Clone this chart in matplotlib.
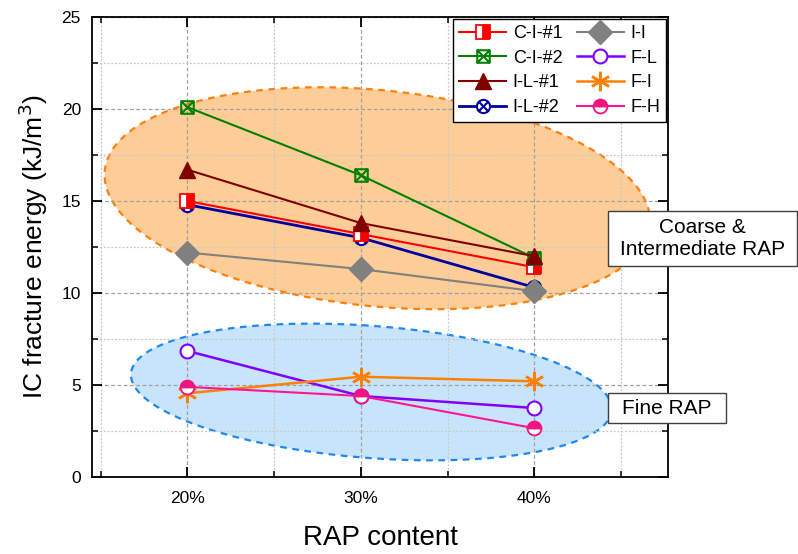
import numpy as np
import matplotlib
matplotlib.use("Agg")
import matplotlib.pyplot as plt
from matplotlib.path import Path
from matplotlib.patches import Polygon, Rectangle
from matplotlib.ticker import MultipleLocator

plt.rcParams['font.family'] = ['Liberation Sans', 'DejaVu Sans']

# RAP content (%) and IC fracture energy (kJ/m3) per mixture
rap = [20, 30, 40]
ci1 = [15.0, 13.2, 11.4]
ci2 = [20.1, 16.4, 11.9]
il1 = [16.7, 13.8, 12.0]
il2 = [14.8, 13.0, 10.3]
ii = [12.2, 11.3, 10.1]
fl = [6.85, 4.4, 3.75]
fi = [4.55, 5.45, 5.2]
fh = [4.9, 4.4, 2.65]
tick_labels = ['20%', '30%', '40%']

# custom markers: boxed X and circled X
box_x = Path([(-1, -1), (1, -1), (1, 1), (-1, 1), (-1, -1),
              (-1, -1), (1, 1), (-1, 1), (1, -1)],
             [Path.MOVETO, Path.LINETO, Path.LINETO, Path.LINETO, Path.CLOSEPOLY,
              Path.MOVETO, Path.LINETO, Path.MOVETO, Path.LINETO])
c = 0.7071
circ_x = Path.make_compound_path(
    Path.unit_circle(),
    Path([(-c, -c), (c, c)]),
    Path([(-c, c), (c, -c)]))

W, H = 798, 554
fig = plt.figure(figsize=(W / 100, H / 100), dpi=100)
ax = fig.add_axes([0.1153, 0.139, 0.7218, 0.8303])
ax.set_xlim(14.5, 47.7)
ax.set_ylim(0, 25)


def ellipse(cx, cy, a_px, b_px, ang, face, edge):
    # ellipse sized in screen pixels, centred on a data point
    t = np.linspace(0, 2 * np.pi, 300)
    r = np.deg2rad(ang)
    ex = a_px * np.cos(t)
    ey = b_px * np.sin(t)
    px = ex * np.cos(r) - ey * np.sin(r)
    py = ex * np.sin(r) + ey * np.cos(r)
    c0 = ax.transData.transform((cx, cy))
    pts = ax.transData.inverted().transform(np.column_stack([px + c0[0], py + c0[1]]))
    ax.add_patch(Polygon(pts, closed=True, facecolor=face, edgecolor=edge,
                         linestyle=(0, (3, 2.5)), linewidth=1.6, zorder=0.3))


ellipse(30.95, 15.15, 274, 108, -5.8, '#fdcd98', '#ff7f0e')
ellipse(30.6, 4.62, 241, 66, -4.4, '#c7e4fb', '#1e88ee')

lw = 1.5
ax.plot(rap, ci1, color='red', lw=lw, marker='s', ms=9.5, fillstyle='right',
        markerfacecolor='red', markerfacecoloralt='white', markeredgecolor='red',
        markeredgewidth=1.3, label='C-I-#1', zorder=4)
ax.plot(rap, ci2, color='#008000', lw=lw, marker=box_x, ms=9, markerfacecolor='none',
        markeredgecolor='#008000', markeredgewidth=1.5, label='C-I-#2', zorder=4)
ax.plot(rap, il1, color='#800000', lw=lw, marker='^', ms=12, markerfacecolor='#800000',
        markeredgecolor='#800000', label='I-L-#1', zorder=4)
ax.plot(rap, il2, color='#0000a0', lw=lw + 0.5, marker=circ_x, ms=9.5, markerfacecolor='white',
        markeredgecolor='#0000a0', markeredgewidth=1.5, label='I-L-#2', zorder=3)
ax.plot(rap, ii, color='#808080', lw=lw, marker='D', ms=12, markerfacecolor='#808080',
        markeredgecolor='#808080', label='I-I', zorder=3)
ax.plot(rap, fl, color='#8000ff', lw=lw + 0.3, marker='o', ms=10, markerfacecolor='white',
        markeredgecolor='#8000ff', markeredgewidth=1.5, label='F-L', zorder=3)
ax.plot(rap, fi, color='#ff8000', lw=lw + 0.3, marker=(6, 2, 0), ms=14,
        markeredgecolor='#ff8000', markeredgewidth=1.8, label='F-I', zorder=3)
ax.plot(rap, fh, color='#ff1493', lw=lw, marker='o', ms=10, fillstyle='top',
        markerfacecolor='#f0147f', markerfacecoloralt='white', markeredgecolor='#f0147f',
        markeredgewidth=1.3, label='F-H', zorder=4)

ax.set_xticks(rap)
ax.set_xticklabels(tick_labels)
ax.xaxis.set_minor_locator(MultipleLocator(5))
ax.yaxis.set_major_locator(MultipleLocator(5))
ax.yaxis.set_minor_locator(MultipleLocator(2.5))
ax.tick_params(which='both', direction='in', top=True, right=True)
ax.tick_params(axis='y', labelsize=12.5, pad=8)
ax.tick_params(axis='x', labelsize=12.5, pad=10)
ax.tick_params(which='major', length=7, width=1.3)
ax.tick_params(which='minor', length=4, width=1.1)
for s in ax.spines.values():
    s.set_linewidth(1.3)

ax.set_axisbelow(True)
ax.grid(which='major', color='#a0a0a0', linestyle=(0, (3, 2)), linewidth=0.9)
ax.grid(which='minor', color='#c8c8c8', linestyle=(0, (1.5, 1.5)), linewidth=0.9)

ax.set_xlabel('RAP content', fontsize=20, labelpad=14)
ax.set_ylabel('IC fracture energy (kJ/m$^3$)', fontsize=19, labelpad=8)

leg = ax.legend(ncol=2, loc='upper right', fontsize=13, frameon=True, fancybox=False,
                edgecolor='black', borderaxespad=0.1, handlelength=2.6,
                labelspacing=0.42, columnspacing=0.8, handletextpad=0.35,
                borderpad=0.35)
leg.get_frame().set_linewidth(1.0)
leg.get_frame().set_alpha(1)


def label_box(x0, y0, x1, y1, text):
    # white framed label, given as pixel edges measured from the top-left corner
    fig.add_artist(Rectangle((x0 / W, 1 - y1 / H), (x1 - x0) / W, (y1 - y0) / H,
                             transform=fig.transFigure, facecolor='white',
                             edgecolor='#404040', linewidth=1.0, zorder=10))
    fig.text((x0 + x1) / 2 / W, 1 - (y0 + y1) / 2 / H, text, ha='center', va='center',
             fontsize=15, linespacing=1.2, zorder=11)


label_box(608, 211, 797, 266, 'Coarse &\nIntermediate RAP')
label_box(608, 393, 726, 423, 'Fine RAP')

fig.savefig('out.png', dpi=100)
